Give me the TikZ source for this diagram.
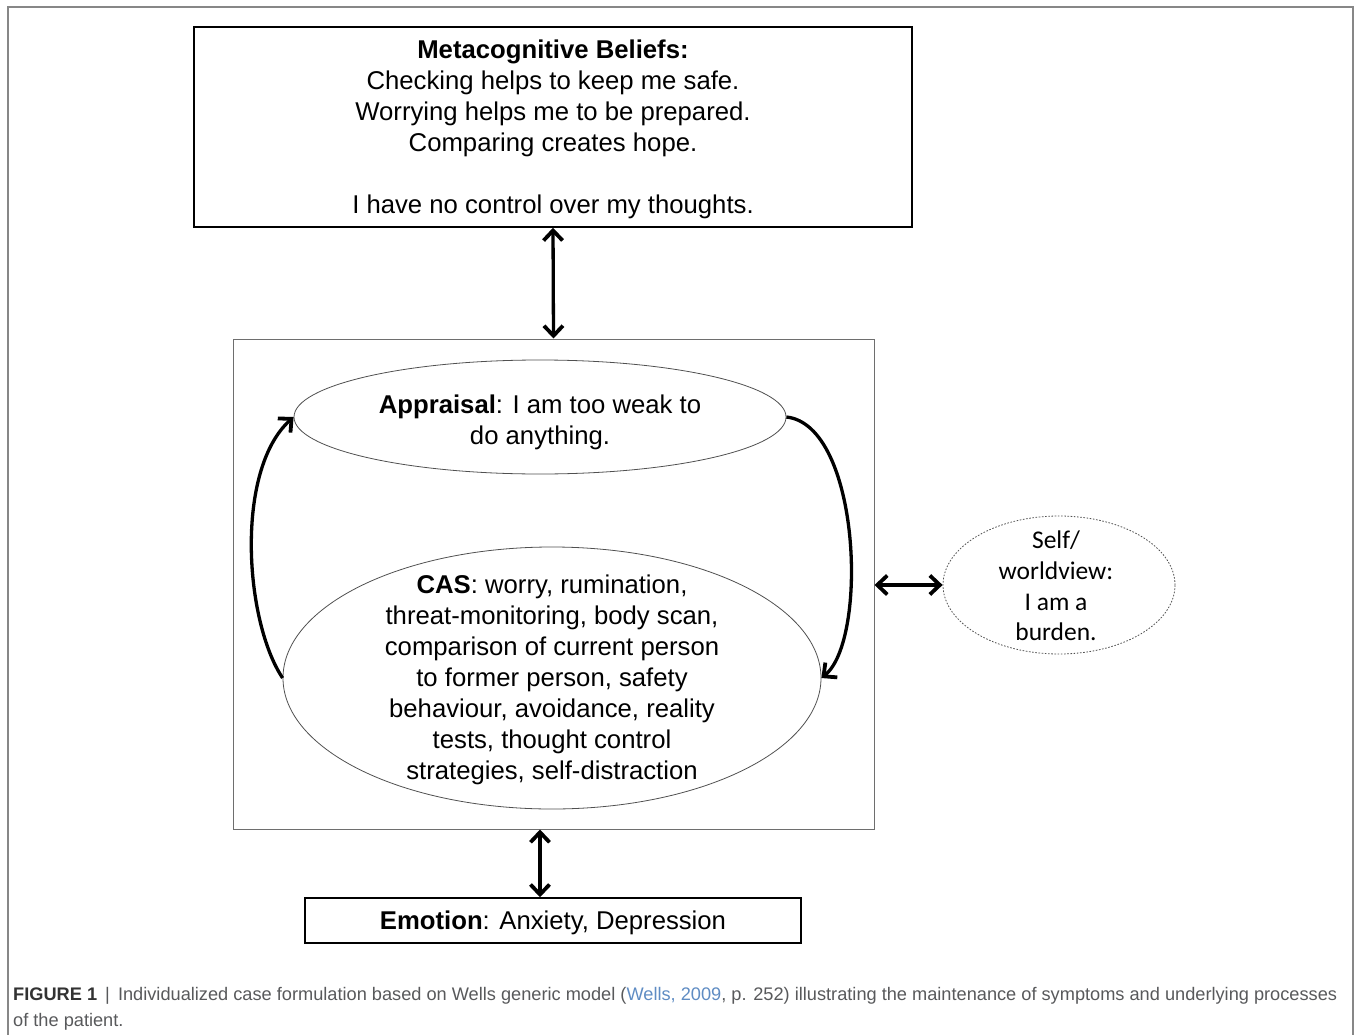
\documentclass[tikz,border=0pt]{standalone}
\usepackage{fontspec}
\setmainfont{Liberation Sans}
\newfontfamily\carlito{Carlito}
\usetikzlibrary{arrows.meta,shapes.geometric,calc}
\definecolor{framegray}{RGB}{135,135,135}
\definecolor{boxgray}{RGB}{110,110,110}
\definecolor{ellgray}{RGB}{80,80,80}
\definecolor{capgray}{RGB}{88,89,91}
\definecolor{capdark}{RGB}{50,50,50}
\definecolor{linkblue}{RGB}{95,140,195}
\tikzset{
  mainfont/.style={font=\fontsize{25.7}{31}\selectfont},
  blackbox/.style={draw=black,line width=1.5pt,rectangle,inner sep=0pt},
  graybox/.style={draw=boxgray,line width=1pt,rectangle,inner sep=0pt},
  ellbox/.style={draw=ellgray,line width=0.8pt,ellipse,inner sep=0pt},
  dotell/.style={draw=ellgray,line width=0.8pt,ellipse,inner sep=0pt,dash pattern=on 1.6pt off 1.6pt},
  txt/.style={mainfont,align=center,inner sep=0pt},
  dblarrow/.style={line width=3.3pt,{Straight Barb[length=10pt,width=19pt,line width=3.8pt]}-{Straight Barb[length=10pt,width=19pt,line width=3.8pt]}},
  onearrow/.style={line width=3.3pt,-{Straight Barb[length=10pt,width=19pt,line width=3.8pt]}},
}
\begin{document}
\begin{tikzpicture}[x=1pt,y=-1pt]
\useasboundingbox (0,0) rectangle (1356,1035);
% outer frame
\draw[framegray,line width=1.5pt] (8,1035) -- (8,7) -- (1353,7) -- (1353,1035);

% boxes
\node[blackbox,minimum width=718pt,minimum height=200pt] (meta) at (553,127) {};
\node[txt] (metatxt) at (553,129) {\textbf{Metacognitive Beliefs:}\\
Checking helps to keep me safe.\\
Worrying helps me to be prepared.\\
Comparing creates hope.\\[31pt]
I have no control over my thoughts.};

\node[graybox,minimum width=641pt,minimum height=490pt] (mid) at (553.5,584) {};

\node[ellbox,minimum width=492pt,minimum height=114pt] (app) at (540,417) {};
\node[txt] (apptxt) at (540,422) {\textbf{Appraisal}: I am too weak to\\do anything.};

\node[ellbox,minimum width=538pt,minimum height=262pt] (cas) at (552,678) {};
\node[txt] (castxt) at (552,680) {\textbf{CAS}: worry, rumination,\\
threat-monitoring, body scan,\\
comparison of current person\\
to former person, safety\\
behaviour, avoidance, reality\\
tests, thought control\\
strategies, self-distraction};

\node[dotell,minimum width=232pt,minimum height=138pt] (self) at (1059,585) {};
\node[align=center,inner sep=0pt,font=\carlito\fontsize{25.5}{30.6}\selectfont] (selftxt) at (1056,586) {Self/\\worldview:\\I am a\\burden.};

\node[blackbox,minimum width=496pt,minimum height=45pt] (emo) at (553,920.5) {};
\node[txt] (emotxt) at (553,923) {\textbf{Emotion}: Anxiety, Depression};

% connectors
\draw[dblarrow] (meta.south) -- (mid.north);
\draw[dblarrow] (mid.south -| app.center) -- (emo.north -| app.center);
\draw[dblarrow] (self.west -| mid.east) -- (self.west);
\draw[onearrow] (cas.west) .. controls +(-38,-57) and +(-59,53) .. (app.west);
\draw[onearrow] (app.east) .. controls +(74,8) and +(47,-38) .. (cas.east);

% caption
\node[anchor=north west,align=left,inner sep=0pt,text=capgray,font=\fontsize{18.2}{26}\selectfont] (caption) at (13,987)
{{\color{capdark}\textbf{FIGURE 1}} \,|\, Individualized case formulation based on Wells generic model ({\color{linkblue}Wells, 2009}, p. 252) illustrating the maintenance of symptoms and underlying processes\\
of the patient.};
\end{tikzpicture}
\end{document}
